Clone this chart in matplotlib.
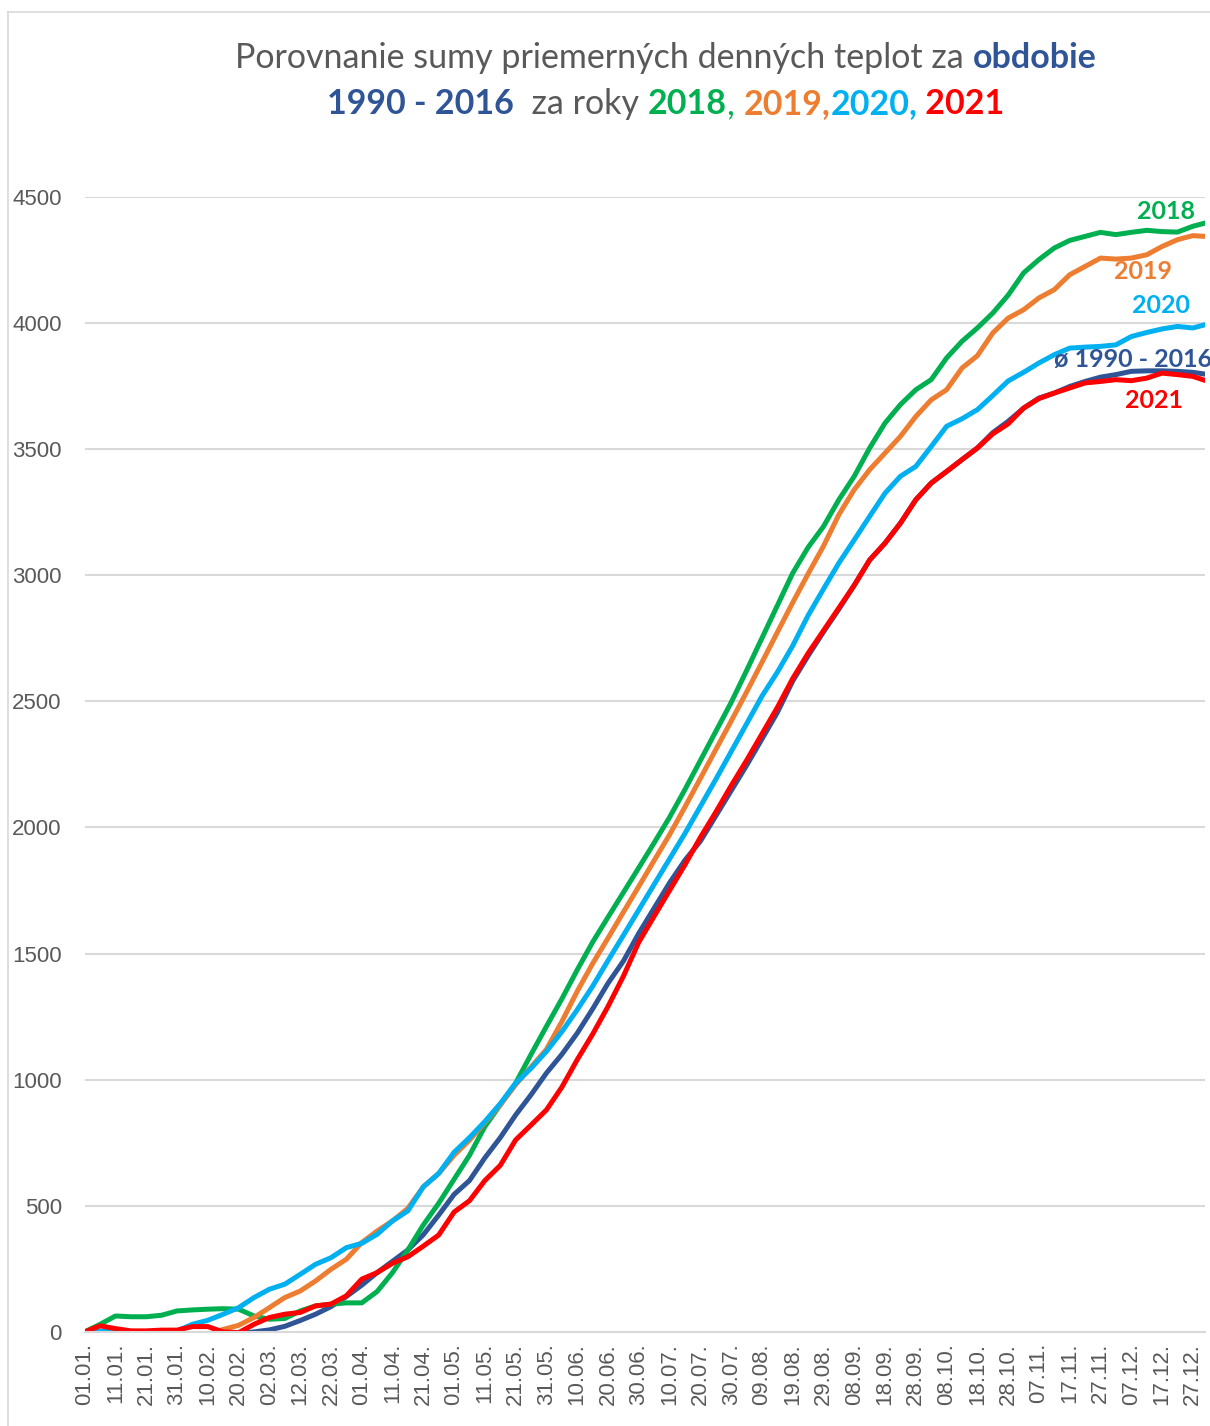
import numpy as np
import matplotlib.pyplot as plt
from matplotlib.lines import Line2D

# day of year (0 = 01.01.)
days = np.array(list(range(0, 365, 5)) + [364])

avg_1990_2016 = np.array([
    0, -8, -15, -22, -28, -30, -30, -28, -22, -15, -6, 0, 8, 22, 45, 70, 100, 140, 185, 235,
    280, 325, 385, 463, 545, 600, 690, 770, 860, 940, 1026, 1100, 1184, 1280, 1382, 1470, 1580, 1680, 1780, 1870,
    1945, 2045, 2145, 2245, 2350, 2455, 2580, 2680, 2775, 2865, 2960, 3060, 3127, 3206, 3299, 3365, 3411, 3458, 3504, 3565,
    3610, 3662, 3702, 3722, 3748, 3768, 3785, 3795, 3808, 3810, 3810, 3808, 3804, 3797])
y2018 = np.array([
    0, 30, 63, 60, 60, 66, 83, 87, 90, 92, 90, 63, 50, 53, 83, 103, 110, 115, 115, 160,
    235, 325, 424, 510, 605, 700, 814, 900, 986, 1100, 1211, 1320, 1435, 1545, 1644, 1742, 1840, 1939, 2040, 2150,
    2265, 2380, 2495, 2621, 2750, 2879, 3008, 3110, 3193, 3299, 3392, 3504, 3603, 3676, 3735, 3775, 3861, 3927, 3980, 4039,
    4110, 4198, 4251, 4297, 4327, 4343, 4359, 4350, 4359, 4367, 4362, 4360, 4383, 4396])
y2019 = np.array([
    0, -10, -30, -50, -60, -70, -60, -40, -10, 10, 26, 57, 96, 136, 162, 202, 248, 288, 354, 400,
    440, 490, 575, 628, 700, 760, 830, 900, 980, 1050, 1120, 1230, 1350, 1460, 1561, 1664, 1766, 1869, 1971, 2081,
    2194, 2308, 2421, 2536, 2654, 2773, 2891, 3005, 3115, 3240, 3339, 3418, 3484, 3550, 3629, 3695, 3735, 3821, 3870, 3960,
    4019, 4052, 4099, 4132, 4191, 4224, 4257, 4253, 4257, 4270, 4303, 4330, 4346, 4343])
y2020 = np.array([
    0, 3, 2, 0, -3, 0, 4, 30, 46, 70, 96, 136, 169, 189, 228, 268, 294, 334, 351, 387,
    440, 480, 575, 628, 712, 770, 834, 905, 986, 1045, 1112, 1190, 1277, 1370, 1472, 1572, 1673, 1774, 1875, 1976,
    2083, 2190, 2300, 2410, 2520, 2615, 2720, 2840, 2945, 3048, 3140, 3233, 3325, 3392, 3431, 3510, 3590, 3620, 3656, 3712,
    3770, 3804, 3841, 3874, 3900, 3904, 3907, 3913, 3946, 3962, 3976, 3986, 3980, 3993])
y2021 = np.array([
    0, 24, 13, 4, 4, 7, 7, 21, 21, 0, -3, 30, 57, 70, 77, 103, 110, 143, 209, 235,
    272, 298, 340, 384, 475, 520, 600, 660, 761, 820, 880, 970, 1079, 1180, 1290, 1410, 1545, 1648, 1750, 1852,
    1960, 2060, 2165, 2265, 2370, 2475, 2590, 2690, 2780, 2870, 2960, 3060, 3127, 3206, 3299, 3365, 3411, 3458, 3504, 3560,
    3600, 3662, 3700, 3722, 3742, 3762, 3768, 3775, 3771, 3781, 3801, 3795, 3788, 3772])

tick_days = np.arange(0, 361, 10)
tick_labels = ["01.01.", "11.01.", "21.01.", "31.01.", "10.02.", "20.02.", "02.03.", "12.03.", "22.03.",
               "01.04.", "11.04.", "21.04.", "01.05.", "11.05.", "21.05.", "31.05.", "10.06.", "20.06.",
               "30.06.", "10.07.", "20.07.", "30.07.", "09.08.", "19.08.", "29.08.", "08.09.", "18.09.",
               "28.09.", "08.10.", "18.10.", "28.10.", "07.11.", "17.11.", "27.11.", "07.12.", "17.12.", "27.12."]

c_avg = '#2F5597'
c18 = '#00B050'
c19 = '#ED7D31'
c20 = '#00B0F0'
c21 = '#FF0000'
c_text = '#595959'
c_grid = '#D9D9D9'

fig = plt.figure(figsize=(12.1, 14.26), dpi=100)
ax = fig.add_axes([0.070, 0.066, 0.926, 0.796])

lw = 3.6
ax.plot(days, avg_1990_2016, color=c_avg, lw=lw)
ax.plot(days, y2018, color=c18, lw=lw)
ax.plot(days, y2019, color=c19, lw=lw)
ax.plot(days, y2020, color=c20, lw=lw)
ax.plot(days, y2021, color=c21, lw=lw)

ax.set_xlim(0, 364)
ax.set_ylim(0, 4500)
ax.set_yticks(np.arange(0, 4501, 500))
ax.set_xticks(tick_days)
ax.set_xticklabels(tick_labels, rotation=90, family='Liberation Sans', fontsize=16, color=c_text)
for lab in ax.get_yticklabels():
    lab.set_family('Liberation Sans')
ax.tick_params(axis='y', length=0, pad=16.5, labelsize=16, labelcolor=c_text)
ax.tick_params(axis='x', length=0, pad=8)
ax.set_xticks([300], minor=True)
ax.tick_params(axis='x', which='minor', length=7, width=1.2, color=c_grid)
ax.grid(axis='y', color=c_grid, lw=1.5)
ax.set_axisbelow(True)
for s in ['left', 'right', 'top']:
    ax.spines[s].set_visible(False)
ax.spines['bottom'].set_color(c_grid)
ax.spines['bottom'].set_linewidth(1.5)

# series labels
lab_font = dict(family='Lato', fontsize=18, fontweight='bold', ha='center', va='center')
ax.text(351.3, 4441, '2018', color=c18, **lab_font)
ax.text(343.8, 4203, '2019', color=c19, **lab_font)
ax.text(349.7, 4068, '2020', color=c20, **lab_font)
ax.text(340.6, 3854, 'ø 1990 - 2016', color=c_avg, **lab_font)
ax.text(347.4, 3692, '2021', color=c21, **lab_font)

# multicoloured title
renderer = fig.canvas.get_renderer()

def title_row(pieces, y, xc=0.5505, size=24.5):
    texts = []
    for s, col, w in pieces:
        texts.append(fig.text(0, y, s, color=col, fontweight=w, fontsize=size,
                              family='Lato', va='center', ha='left'))
    widths = [t.get_window_extent(renderer).width / fig.bbox.width for t in texts]
    x = xc - sum(widths) / 2
    for t, w in zip(texts, widths):
        t.set_x(x)
        x += w

title_row([("Porovnanie sumy priemerných denných teplot za ", c_text, 'normal'),
           ("obdobie", c_avg, 'bold')], 0.959)
title_row([("1990 - 2016", c_avg, 'bold'),
           ("  za roky ", c_text, 'normal'),
           ("2018", c18, 'bold'),
           (", ", c18, 'normal'),
           ("2019,", c19, 'bold'),
           ("2020,", c20, 'bold'),
           (" 2021", c21, 'bold')], 0.927)

# chart border
fig.add_artist(Line2D([8 / 1210, 8 / 1210], [0, 1 - 12 / 1426], color=c_grid, lw=1.2))
fig.add_artist(Line2D([8 / 1210, 1], [1 - 12 / 1426, 1 - 12 / 1426], color=c_grid, lw=1.2))

fig.savefig('out.png', dpi=100)
